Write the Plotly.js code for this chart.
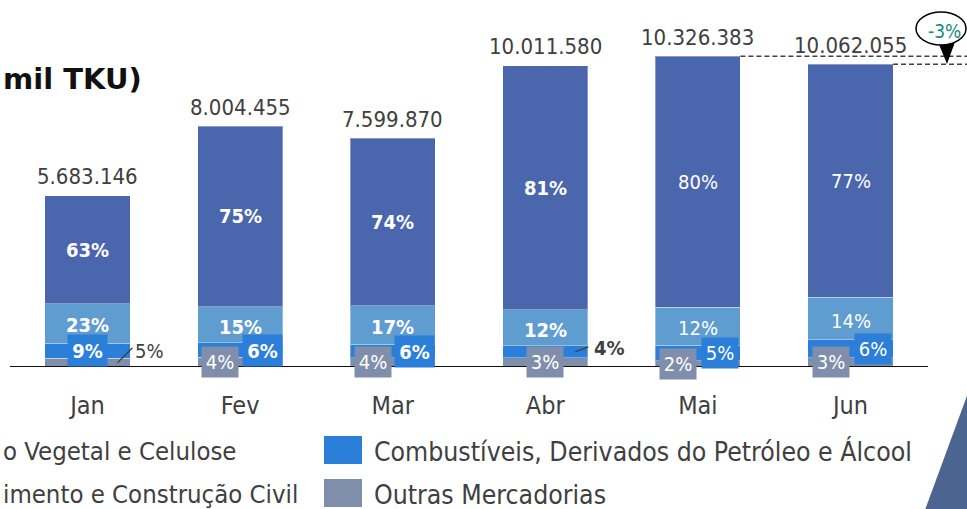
<!DOCTYPE html>
<html>
<head>
<meta charset="utf-8">
<script src="https://cdn.plot.ly/plotly-3.0.1.min.js"></script>
<style>html,body{margin:0;padding:0;background:#fff;}#chart{width:967px;height:509px;}</style>
</head>
<body>
<div id="chart"></div>
<script>
// ---------- data ----------
const months = ['Jan', 'Fev', 'Mar', 'Abr', 'Mai', 'Jun'];
const totals = [5683146, 8004455, 7599870, 10011580, 10326383, 10062055];
const pctOutras = [5, 4, 4, 3, 2, 3];
const pctComb = [9, 6, 6, 4, 5, 6];
const pctLight = [23, 15, 17, 12, 12, 14];
const pctDark = [63, 75, 74, 81, 80, 77];
const totalLabels = ['5.683.146', '8.004.455', '7.599.870', '10.011.580', '10.326.383', '10.062.055'];
const variationLabel = '-3%';
// legend texts as visible in the (cropped) reference
const legendNames = ['o Vegetal e Celulose', 'imento e Construção Civil',
                     'Combustíveis, Derivados do Petróleo e Álcool', 'Outras Mercadorias'];
const titleText = 'mil TKU)';

// ---------- styles ----------
const FONT = 'DejaVu Sans Condensed, DejaVu Sans, sans-serif';
const TXT = '#404040';
const cDark = '#4A66AD', cLight = '#5F9DD1', cComb = '#2B7FD8', cGray = '#7F8FAB';
const W = 967, H = 509, BASE = 367;
const px = v => v / W;                 // paper x from pixel
const py = v => (BASE - v) / BASE;     // paper y from pixel (plot area top 0 .. baseline)

// segment values from totals and shares
const seg = (pcts) => totals.map((t, i) => {
  const s = pctOutras[i] + pctComb[i] + pctLight[i] + pctDark[i];
  return t * pcts[i] / s;
});
const vOutras = seg(pctOutras), vComb = seg(pctComb), vLight = seg(pctLight), vDark = seg(pctDark);
const idx = months.map((m, i) => i);

const barLine = {width: 1, color: 'rgba(255,255,255,0.35)'};
const traces = [
  {name: 'Outras Mercadorias', y: vOutras, color: cGray},
  {name: 'Combustíveis, Derivados do Petróleo e Álcool', y: vComb, color: cComb},
  {name: 'Série 2', y: vLight, color: cLight},
  {name: 'Série 1', y: vDark, color: cDark}
].map(s => ({
  type: 'bar', x: idx, y: s.y, name: s.name, showlegend: false,
  marker: {color: s.color, line: barLine}, hoverinfo: 'skip'
}));

const ann = [];
const shapes = [];
const pctTxt = p => p + '%';

idx.forEach(i => {
  const bold = i < 4;
  const wt = bold ? 'bold' : 'normal';
  const midG = vOutras[i] / 2;
  const midC = vOutras[i] + vComb[i] / 2;
  const midL = vOutras[i] + vComb[i] + vLight[i] / 2;
  const midD = vOutras[i] + vComb[i] + vLight[i] + vDark[i] / 2;
  // dark + light labels
  ann.push({x: i, y: midD, text: pctTxt(pctDark[i]), showarrow: false, xanchor: 'center', yanchor: 'middle',
    font: {family: FONT, size: 20, color: '#fff', weight: wt}});
  ann.push({x: i, y: midL, yshift: -2, text: pctTxt(pctLight[i]), showarrow: false, xanchor: 'center', yanchor: 'middle',
    font: {family: FONT, size: 20, color: '#fff', weight: wt}});
  // combustiveis label
  if (i === 3) {
    ann.push({x: i, y: midC, xshift: 64, yshift: 4, text: pctTxt(pctComb[i]), showarrow: false,
      xanchor: 'center', yanchor: 'middle',
      font: {family: FONT, size: 20, color: TXT, weight: 'bold'}});
    shapes.push({type: 'line', xref: 'x', yref: 'y', xsizemode: 'pixel', ysizemode: 'pixel',
      xanchor: i, yanchor: midC, x0: 30, x1: 43, y0: 0, y1: 5, line: {color: TXT, width: 1.2}});
  } else {
    const dx = i === 0 ? 0 : 22;
    ann.push({x: i, y: midC, xshift: dx, text: pctTxt(pctComb[i]), showarrow: false,
      xanchor: 'center', yanchor: 'middle',
      bgcolor: cComb, width: bold ? 37 : 34, height: bold ? 29 : 28,
      font: {family: FONT, size: 20, color: '#fff', weight: wt}});
  }
  // outras label
  if (i === 0) {
    ann.push({x: i, y: midG, xshift: 62, yshift: 12, text: pctTxt(pctOutras[i]), showarrow: false,
      xanchor: 'center', yanchor: 'middle',
      font: {family: FONT, size: 20, color: TXT}});
    shapes.push({type: 'line', xref: 'x', yref: 'y', xsizemode: 'pixel', ysizemode: 'pixel',
      xanchor: i, yanchor: midG, x0: 30, x1: 45, y0: 0, y1: 15, line: {color: TXT, width: 1.2}});
  } else {
    const dx = i === 3 ? 0 : -20;
    ann.push({x: i, y: midG, xshift: dx, text: pctTxt(pctOutras[i]), showarrow: false,
      xanchor: 'center', yanchor: 'middle',
      bgcolor: cGray, width: 34, height: 28,
      font: {family: FONT, size: 20, color: '#fff'}});
  }
  // total label
  ann.push({x: i, y: totals[i], yshift: 19, text: totalLabels[i], showarrow: false,
    xanchor: 'center', yanchor: 'middle',
    font: {family: FONT, size: 22, color: TXT}});
});

// title (at left edge)
ann.push({xref: 'paper', yref: 'paper', x: px(1), y: py(79), xanchor: 'left', yanchor: 'middle',
  text: titleText, showarrow: false, font: {family: 'DejaVu Sans, sans-serif', size: 29, color: '#111', weight: 'bold'}});

// legend
const legY1 = 451, legY2 = 494;
ann.push({xref: 'paper', yref: 'paper', x: px(1), y: py(legY1), xanchor: 'left', yanchor: 'middle', text: legendNames[0],
  showarrow: false, font: {family: FONT, size: 25.5, color: TXT}});
ann.push({xref: 'paper', yref: 'paper', x: px(1), y: py(legY2), xanchor: 'left', yanchor: 'middle', text: legendNames[1],
  showarrow: false, font: {family: FONT, size: 25.5, color: TXT}});
ann.push({xref: 'paper', yref: 'paper', x: px(372), y: py(legY1), xanchor: 'left', yanchor: 'middle', text: legendNames[2],
  showarrow: false, font: {family: FONT, size: 26.4, color: TXT}});
ann.push({xref: 'paper', yref: 'paper', x: px(372), y: py(legY2), xanchor: 'left', yanchor: 'middle', text: legendNames[3],
  showarrow: false, font: {family: FONT, size: 26.4, color: TXT}});
shapes.push({type: 'rect', xref: 'paper', yref: 'paper', x0: px(324), x1: px(362), y0: py(464), y1: py(436),
  fillcolor: cComb, line: {width: 0}});
shapes.push({type: 'rect', xref: 'paper', yref: 'paper', x0: px(324), x1: px(362), y0: py(507), y1: py(479),
  fillcolor: cGray, line: {width: 0}});

// axis base line
shapes.push({type: 'line', xref: 'x', yref: 'y', x0: -0.508, x1: 5.508, y0: 0, y1: 0,
  line: {color: '#111', width: 2}, layer: 'above'});

// dashed reference lines (Mai and Jun tops)
const halfBar = 0.2785;
shapes.push({type: 'line', xref: 'x', yref: 'y', x0: 4 + halfBar, x1: 8, y0: totals[4], y1: totals[4],
  line: {color: TXT, width: 1.5, dash: '5px,3px'}});
shapes.push({type: 'line', xref: 'x', yref: 'y', x0: 5 + halfBar, x1: 8, y0: totals[5], y1: totals[5],
  line: {color: TXT, width: 1.5, dash: '5px,3px'}});

// callout bubble
shapes.push({type: 'path', xref: 'paper', yref: 'paper',
  path: `M ${px(938)} ${py(42)} L ${px(955)} ${py(42)} L ${px(947)} ${py(64)} Z`,
  fillcolor: '#000', line: {width: 0}, layer: 'above'});
shapes.push({type: 'circle', xref: 'paper', yref: 'paper', x0: px(916), x1: px(966), y0: py(45), y1: py(12),
  fillcolor: '#fff', line: {color: '#000', width: 1.5}, layer: 'above'});
ann.push({xref: 'paper', yref: 'paper', x: px(944), y: py(31), xanchor: 'center', yanchor: 'middle',
  text: variationLabel, showarrow: false,
  font: {family: FONT, size: 19, color: '#178A7B'}});

// decorative triangle bottom-right
shapes.push({type: 'path', xref: 'paper', yref: 'paper',
  path: `M ${px(968)} ${py(393)} L ${px(925)} ${py(510)} L ${px(968)} ${py(510)} Z`,
  fillcolor: '#4B6490', line: {width: 0}});

const layout = {
  width: W, height: H,
  margin: {l: 0, r: 0, t: 0, b: H - BASE, pad: 0},
  paper_bgcolor: '#fff', plot_bgcolor: '#fff',
  barmode: 'stack', bargap: 0.442,
  xaxis: {range: [-0.5734, 5.7634], tickmode: 'array', tickvals: idx, ticktext: months,
    showgrid: false, zeroline: false, showline: false, ticks: '', ticklabelstandoff: 21,
    tickfont: {family: FONT, size: 25, color: TXT}, fixedrange: true},
  yaxis: {range: [0, BASE / 30.1e-6], visible: false, fixedrange: true},
  annotations: ann, shapes: shapes, showlegend: false,
  font: {family: FONT}
};

Plotly.newPlot('chart', traces, layout, {displayModeBar: false, staticPlot: true});
</script>
</body>
</html>
